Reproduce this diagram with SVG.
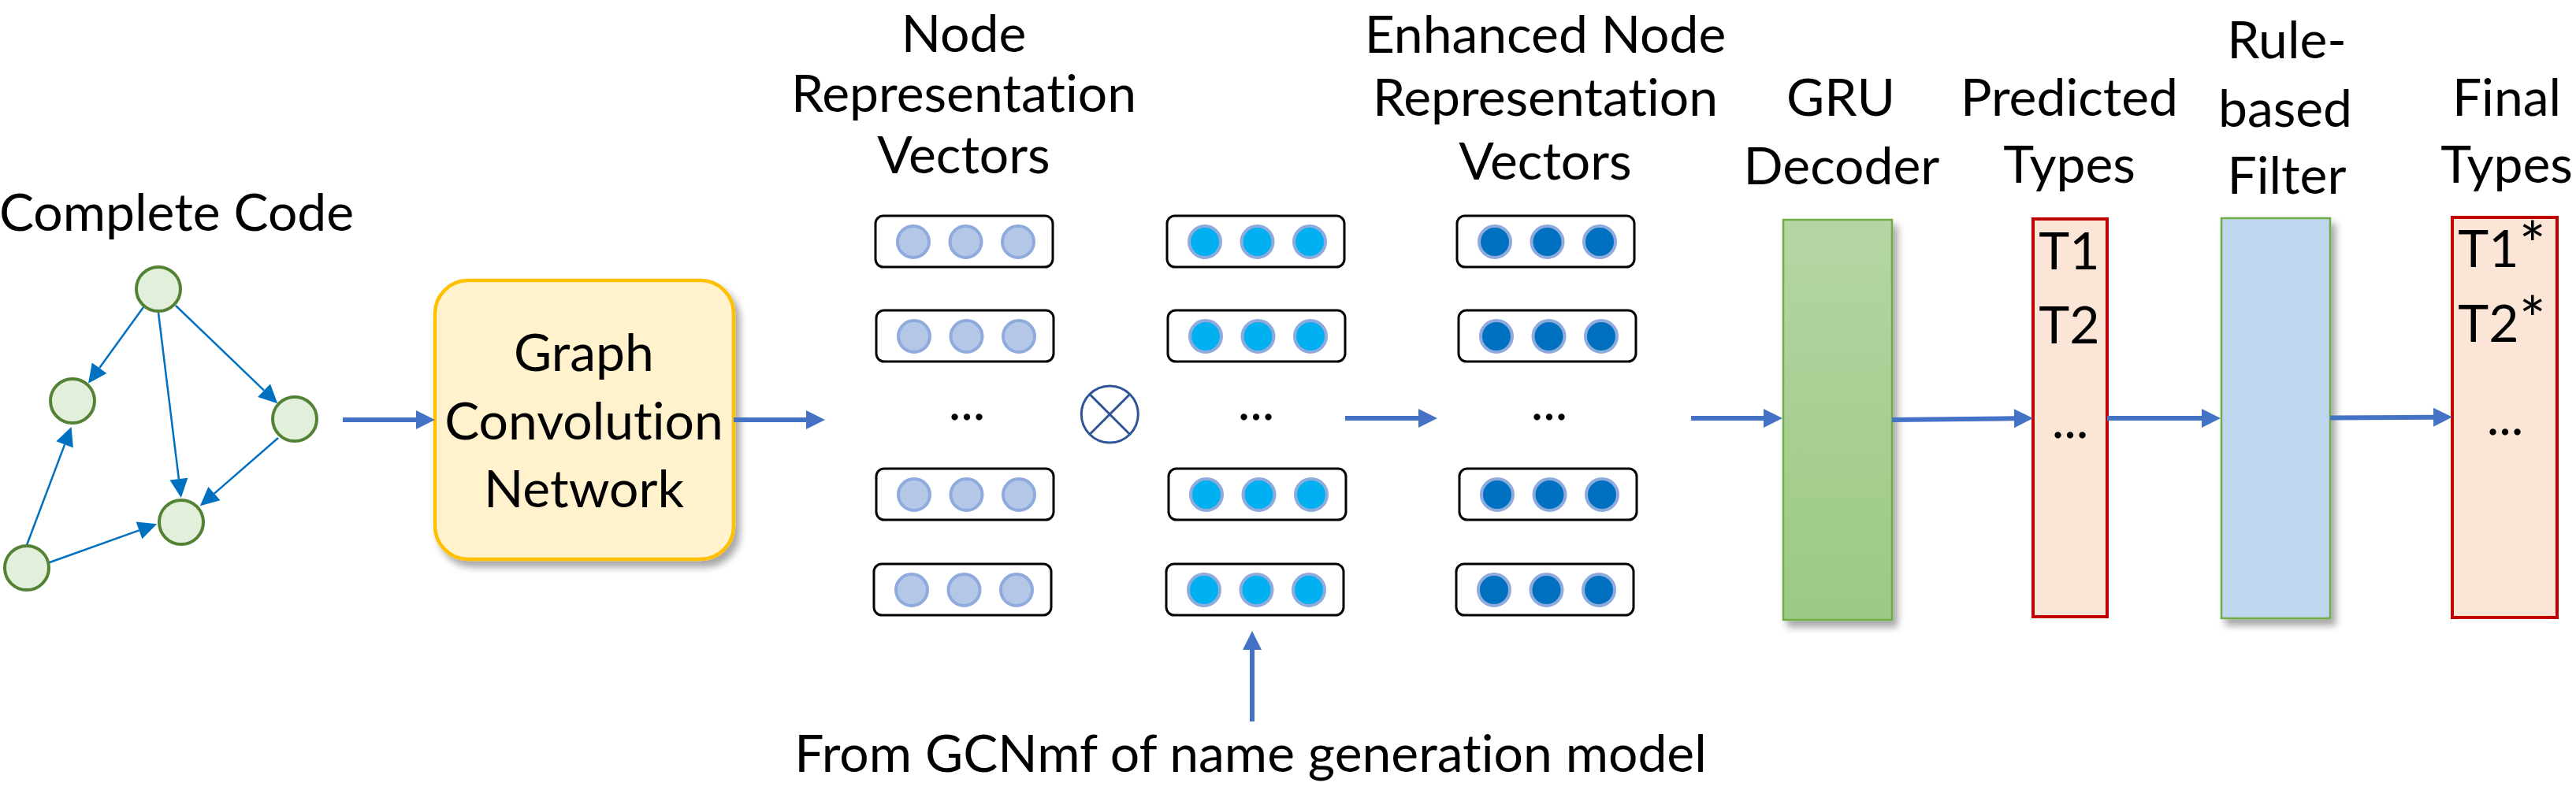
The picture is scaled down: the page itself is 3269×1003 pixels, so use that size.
<svg xmlns="http://www.w3.org/2000/svg" width="3269" height="1003" viewBox="0 0 3269 1003">
<style>
text{font-family:Lato,"Liberation Sans",sans-serif;font-size:66px;fill:#000;font-variant-ligatures:none;font-feature-settings:"liga" 0,"clig" 0}
.c{text-anchor:middle}
.gn{fill:#E2EFDA;stroke:#548235;stroke-width:4}
.ge{stroke:#0070C0;stroke-width:2.5;fill:none}
.ba{stroke:#4472C4;stroke-width:6;fill:none}
.vb{fill:#fff;stroke:#000;stroke-width:3}
.c1{fill:#B4C7E7;stroke:#8FAADC;stroke-width:4}
.c2{fill:#00B0F0;stroke:#8FAADC;stroke-width:4}
.c3{fill:#0070C0;stroke:#8FAADC;stroke-width:4}
.rb{fill:#FBE5D6;stroke:#C00000;stroke-width:4}
</style>
<defs>
<marker id="ah" markerUnits="userSpaceOnUse" markerWidth="24" markerHeight="23" refX="0" refY="11.5" orient="auto" overflow="visible"><path d="M0,0 L24,11.5 L0,23 z" fill="#0070C0"/></marker>
<marker id="bh" markerUnits="userSpaceOnUse" markerWidth="24" markerHeight="24" refX="0" refY="12" orient="auto" overflow="visible"><path d="M0,0 L24,12 L0,24 z" fill="#4472C4"/></marker>
<filter id="sh" x="-20%" y="-20%" width="150%" height="150%"><feDropShadow dx="6" dy="8" stdDeviation="5" flood-color="#000" flood-opacity="0.35"/></filter>
<linearGradient id="gg" x1="0" y1="0" x2="0" y2="1"><stop offset="0" stop-color="#B5D6A4"/><stop offset="1" stop-color="#9CC983"/></linearGradient>
</defs>

<g id="graph">
<text class="c" x="224" y="293">Complete Code</text>
<g id="graph-edges">
<line class="ge" x1="182" y1="390" x2="126.1" y2="467.3" marker-end="url(#ah)"/>
<line class="ge" x1="201" y1="397" x2="226.9" y2="608.2" marker-end="url(#ah)"/>
<line class="ge" x1="223" y1="388" x2="335" y2="495.7" marker-end="url(#ah)"/>
<line class="ge" x1="353" y1="556" x2="271.9" y2="626.6" marker-end="url(#ah)"/>
<line class="ge" x1="34" y1="692" x2="82.1" y2="564.4" marker-end="url(#ah)"/>
<line class="ge" x1="63" y1="714" x2="176.5" y2="673.4" marker-end="url(#ah)"/>
</g>
<circle id="gn-top" class="gn" cx="201" cy="367" r="28"/>
<circle id="gn-left" class="gn" cx="92" cy="509" r="28"/>
<circle id="gn-right" class="gn" cx="374" cy="532" r="28"/>
<circle id="gn-mid" class="gn" cx="230" cy="663" r="28"/>
<circle id="gn-bl" class="gn" cx="34" cy="721" r="28"/>
</g>

<g id="gcn">
<rect x="552" y="356" width="379" height="354" rx="42" fill="#FFF2CC" stroke="#FFC000" stroke-width="4.5" filter="url(#sh)"/>
<text class="c" x="741" y="470.5">Graph</text>
<text class="c" x="741" y="557.5">Convolution</text>
<text class="c" x="741" y="643.5">Network</text>
</g>

<g id="node-vectors">
<text class="c" x="1223" y="66">Node</text>
<text class="c" x="1223" y="142">Representation</text>
<text class="c" x="1223" y="220">Vectors</text>
<g transform="translate(1111,274)"><rect class="vb" width="225" height="65" rx="10"/><circle class="c1" cx="48" cy="33" r="20"/><circle class="c1" cx="114.5" cy="33" r="20"/><circle class="c1" cx="181" cy="33" r="20"/></g>
<g transform="translate(1112,394)"><rect class="vb" width="225" height="65" rx="10"/><circle class="c1" cx="48" cy="33" r="20"/><circle class="c1" cx="114.5" cy="33" r="20"/><circle class="c1" cx="181" cy="33" r="20"/></g>
<text class="c" x="1227" y="533">...</text>
<g transform="translate(1112,595)"><rect class="vb" width="225" height="65" rx="10"/><circle class="c1" cx="48" cy="33" r="20"/><circle class="c1" cx="114.5" cy="33" r="20"/><circle class="c1" cx="181" cy="33" r="20"/></g>
<g transform="translate(1109,716)"><rect class="vb" width="225" height="65" rx="10"/><circle class="c1" cx="48" cy="33" r="20"/><circle class="c1" cx="114.5" cy="33" r="20"/><circle class="c1" cx="181" cy="33" r="20"/></g>
</g>

<g id="multiply">
<circle cx="1408.3" cy="526" r="36" fill="none" stroke="#2F5597" stroke-width="3"/>
<path d="M1382.8,500.5 L1433.8,551.5 M1433.8,500.5 L1382.8,551.5" stroke="#2F5597" stroke-width="3"/>
</g>

<g id="name-vectors">
<g transform="translate(1481,274)"><rect class="vb" width="225" height="65" rx="10"/><circle class="c2" cx="48" cy="33" r="20"/><circle class="c2" cx="114.5" cy="33" r="20"/><circle class="c2" cx="181" cy="33" r="20"/></g>
<g transform="translate(1482,394)"><rect class="vb" width="225" height="65" rx="10"/><circle class="c2" cx="48" cy="33" r="20"/><circle class="c2" cx="114.5" cy="33" r="20"/><circle class="c2" cx="181" cy="33" r="20"/></g>
<text class="c" x="1594" y="533">...</text>
<g transform="translate(1483,595)"><rect class="vb" width="225" height="65" rx="10"/><circle class="c2" cx="48" cy="33" r="20"/><circle class="c2" cx="114.5" cy="33" r="20"/><circle class="c2" cx="181" cy="33" r="20"/></g>
<g transform="translate(1480,716)"><rect class="vb" width="225" height="65" rx="10"/><circle class="c2" cx="48" cy="33" r="20"/><circle class="c2" cx="114.5" cy="33" r="20"/><circle class="c2" cx="181" cy="33" r="20"/></g>
<text class="c" x="1587" y="980">From GCNmf of name generation model</text>
</g>

<g id="enhanced-vectors">
<text class="c" x="1961" y="67">Enhanced Node</text>
<text class="c" x="1961" y="147">Representation</text>
<text class="c" x="1961" y="228">Vectors</text>
<g transform="translate(1849,274)"><rect class="vb" width="225" height="65" rx="10"/><circle class="c3" cx="48" cy="33" r="20"/><circle class="c3" cx="114.5" cy="33" r="20"/><circle class="c3" cx="181" cy="33" r="20"/></g>
<g transform="translate(1851,394)"><rect class="vb" width="225" height="65" rx="10"/><circle class="c3" cx="48" cy="33" r="20"/><circle class="c3" cx="114.5" cy="33" r="20"/><circle class="c3" cx="181" cy="33" r="20"/></g>
<text class="c" x="1966" y="533">...</text>
<g transform="translate(1852,595)"><rect class="vb" width="225" height="65" rx="10"/><circle class="c3" cx="48" cy="33" r="20"/><circle class="c3" cx="114.5" cy="33" r="20"/><circle class="c3" cx="181" cy="33" r="20"/></g>
<g transform="translate(1848,716)"><rect class="vb" width="225" height="65" rx="10"/><circle class="c3" cx="48" cy="33" r="20"/><circle class="c3" cx="114.5" cy="33" r="20"/><circle class="c3" cx="181" cy="33" r="20"/></g>
</g>

<g id="gru">
<text class="c" x="2336" y="146.5">GRU</text>
<text class="c" x="2337" y="233.5">Decoder</text>
<rect x="2263" y="279" width="138" height="508" fill="url(#gg)" stroke="#70AD47" stroke-width="2.5" filter="url(#sh)"/>
</g>

<g id="predicted">
<text class="c" x="2626" y="146.5">Predicted</text>
<text class="c" x="2626" y="231.5">Types</text>
<rect class="rb" x="2580" y="278" width="94" height="505"/>
<text class="c" x="2626" y="341.5">T1</text>
<text class="c" x="2626" y="436">T2</text>
<text class="c" x="2627" y="556">...</text>
</g>

<g id="filter">
<text class="c" x="2902" y="74">Rule-</text>
<text class="c" x="2900" y="160.5">based</text>
<text class="c" x="2902" y="245.5">Filter</text>
<rect x="2819" y="277" width="138" height="508" fill="#BDD7EE" stroke="#70AD47" stroke-width="2.5" filter="url(#sh)"/>
</g>

<g id="final">
<text class="c" x="3181" y="146.5">Final</text>
<text class="c" x="3181" y="231.5">Types</text>
<rect class="rb" x="3112" y="276" width="133" height="508"/>
<text class="c" x="3175" y="339">T1<tspan font-size="80">*</tspan></text>
<text class="c" x="3175" y="433.5">T2<tspan font-size="80">*</tspan></text>
<text class="c" x="3179" y="552">...</text>
</g>

<g id="connectors">
<line class="ba" x1="435" y1="533" x2="528" y2="533" marker-end="url(#bh)"/>
<line class="ba" x1="931" y1="533" x2="1023" y2="533" marker-end="url(#bh)"/>
<line class="ba" x1="1707" y1="531" x2="1800" y2="531" marker-end="url(#bh)"/>
<line class="ba" x1="2146" y1="531" x2="2238" y2="531" marker-end="url(#bh)"/>
<line class="ba" x1="2401" y1="533" x2="2556" y2="531.3" marker-end="url(#bh)"/>
<line class="ba" x1="2674" y1="531" x2="2794" y2="531" marker-end="url(#bh)"/>
<line class="ba" x1="2957" y1="530.5" x2="3088" y2="529.7" marker-end="url(#bh)"/>
<line class="ba" x1="1589" y1="916" x2="1589" y2="825" marker-end="url(#bh)"/>
</g>
</svg>
